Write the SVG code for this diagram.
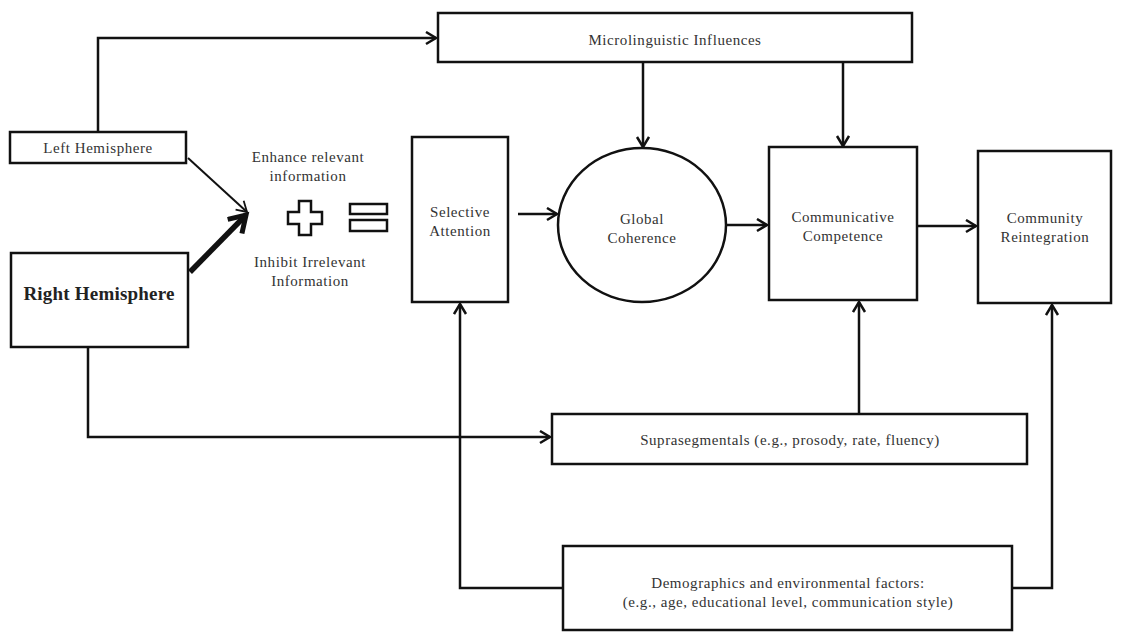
<svg xmlns="http://www.w3.org/2000/svg" width="1121" height="632" viewBox="0 0 1121 632">
<style>
  .box { fill: #fff; stroke: #111; stroke-width: 2.5; }
  .t { font-family: "Liberation Serif", "Times New Roman", serif; font-size: 15px; letter-spacing: 0.55px; fill: #333; text-anchor: middle; dominant-baseline: central; }
  .conn { fill: none; stroke: #111; stroke-width: 2.5; }
  .sym { fill: #fff; stroke: #111; stroke-width: 2.5; }
</style>
<defs>
  <marker id="ah" markerUnits="userSpaceOnUse" markerWidth="14" markerHeight="16" refX="11" refY="7" orient="auto">
    <path d="M1,1 L11,7 L1,13" fill="none" stroke="#111" stroke-width="2.5"/>
  </marker>
  <marker id="ahThin" markerUnits="userSpaceOnUse" markerWidth="14" markerHeight="16" refX="11" refY="7" orient="auto">
    <path d="M1,1 L11,7 L1,13" fill="none" stroke="#111" stroke-width="1.8"/>
  </marker>
  <marker id="ahBig" markerUnits="userSpaceOnUse" markerWidth="24" markerHeight="26" refX="18" refY="12" orient="auto">
    <path d="M2,2 L18,12 L2,22" fill="none" stroke="#111" stroke-width="5"/>
  </marker>
</defs>

<g id="connectors">
  <path class="conn" d="M98,132 V38 H436" marker-end="url(#ah)"/>
  <path class="conn" style="stroke-width:2" d="M188,158 L247,212" marker-end="url(#ahThin)"/>
  <path class="conn" style="stroke-width:5.5" d="M190,272 L246,215" marker-end="url(#ahBig)"/>
  <path class="conn" d="M643,62 V147" marker-end="url(#ah)"/>
  <path class="conn" d="M843,62 V146" marker-end="url(#ah)"/>
  <path class="conn" d="M518,214 H557" marker-end="url(#ah)"/>
  <path class="conn" d="M726,225 H767" marker-end="url(#ah)"/>
  <path class="conn" d="M917,226 H976" marker-end="url(#ah)"/>
  <path class="conn" d="M859,414 V302" marker-end="url(#ah)"/>
  <path class="conn" d="M1012,588 H1052 V305" marker-end="url(#ah)"/>
  <path class="conn" d="M563,588 H460 V304" marker-end="url(#ah)"/>
  <path class="conn" d="M88,347 V437 H550" marker-end="url(#ah)"/>
</g>

<g id="left-hemisphere">
  <rect class="box" x="10" y="132" width="176" height="31"/>
  <text class="t" x="98" y="148">Left Hemisphere</text>
</g>

<g id="right-hemisphere">
  <rect class="box" x="11" y="253" width="177" height="94"/>
  <text class="t" x="99" y="293" style="font-size:19px;letter-spacing:0.2px;font-weight:bold;fill:#222">Right Hemisphere</text>
</g>

<g id="enhance-label">
  <text class="t" x="308" y="157">Enhance relevant</text>
  <text class="t" x="308" y="176">information</text>
</g>

<g id="inhibit-label">
  <text class="t" x="310" y="262">Inhibit Irrelevant</text>
  <text class="t" x="310" y="281">Information</text>
</g>

<g id="plus">
  <path class="sym" d="M299,201 H311 V212 H322 V224 H311 V235 H299 V224 H288 V212 H299 Z"/>
</g>

<g id="equals">
  <rect class="sym" x="350" y="204" width="37" height="10"/>
  <rect class="sym" x="350" y="220" width="37" height="11"/>
</g>

<g id="microlinguistic">
  <rect class="box" x="438" y="13" width="474" height="49"/>
  <text class="t" x="675" y="40">Microlinguistic Influences</text>
</g>

<g id="selective-attention">
  <rect class="box" x="412" y="137" width="96" height="165"/>
  <text class="t" x="460" y="212">Selective</text>
  <text class="t" x="460" y="231">Attention</text>
</g>

<g id="global-coherence">
  <ellipse class="box" cx="642" cy="225" rx="84" ry="77"/>
  <text class="t" x="642" y="219">Global</text>
  <text class="t" x="642" y="238">Coherence</text>
</g>

<g id="communicative-competence">
  <rect class="box" x="769" y="147" width="148" height="153"/>
  <text class="t" x="843" y="217">Communicative</text>
  <text class="t" x="843" y="236">Competence</text>
</g>

<g id="community-reintegration">
  <rect class="box" x="978" y="151" width="133" height="152"/>
  <text class="t" x="1045" y="218">Community</text>
  <text class="t" x="1045" y="237">Reintegration</text>
</g>

<g id="suprasegmentals">
  <rect class="box" x="552" y="414" width="475" height="50"/>
  <text class="t" x="790" y="440">Suprasegmentals (e.g., prosody, rate, fluency)</text>
</g>

<g id="demographics">
  <rect class="box" x="563" y="546" width="449" height="84"/>
  <text class="t" x="788" y="583">Demographics and environmental factors:</text>
  <text class="t" x="788" y="602">(e.g., age, educational level, communication style)</text>
</g>
</svg>
